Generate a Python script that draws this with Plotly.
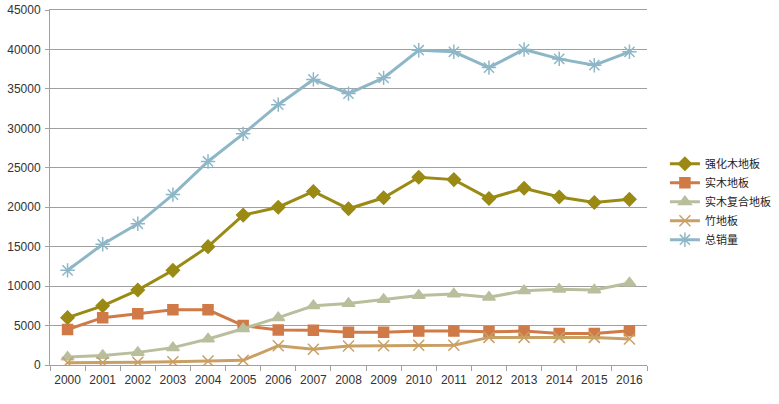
import plotly.graph_objects as go

years = [str(y) for y in range(2000, 2017)]

laminate = [6000, 7500, 9500, 12000, 15000, 19000, 20000, 22000, 19800, 21200,
            23800, 23500, 21100, 22400, 21300, 20600, 21000]
solid_wood = [4500, 6000, 6500, 7000, 7000, 5000, 4450, 4400, 4150, 4150,
              4300, 4300, 4200, 4300, 4000, 4000, 4350]
engineered = [1000, 1200, 1600, 2200, 3300, 4600, 6000, 7500, 7800, 8300,
              8800, 9000, 8600, 9400, 9600, 9500, 10400]
bamboo = [300, 300, 350, 400, 500, 600, 2450, 2000, 2400, 2450,
          2500, 2500, 3500, 3500, 3500, 3500, 3300]
total = [12000, 15300, 17900, 21600, 25800, 29300, 33000, 36200, 34400, 36400,
         39900, 39700, 37700, 40000, 38800, 38000, 39700]

series = [
    ("强化木地板", laminate, "#9a8a14", "diamond", 10),
    ("实木地板", solid_wood, "#d07a48", "square", 10),
    ("实木复合地板", engineered, "#b9bf9c", "triangle-up", 11),
    ("竹地板", bamboo, "#c9a064", "x-thin", 11),
    ("总销量", total, "#8db7c7", "asterisk", 12),
]

fig = go.Figure()
for name, vals, color, symbol, size in series:
    fig.add_trace(go.Scatter(
        x=years, y=vals, name=name, mode="lines+markers",
        line=dict(color=color, width=3),
        marker=dict(symbol=symbol, size=size, color=color,
                    line=dict(color=color, width=1.5)),
    ))

fig.update_layout(
    width=779, height=404,
    margin=dict(l=50, r=132, t=10, b=39, autoexpand=False),
    plot_bgcolor="white", paper_bgcolor="white",
    font=dict(family="Liberation Sans, Arial, Noto Sans CJK SC", size=12, color="#333333"),
    showlegend=True,
    legend=dict(x=1.03, y=0.46, yanchor="middle", xanchor="left",
                font=dict(size=11, color="#222222", family="Noto Sans CJK SC"),
                tracegroupgap=0, itemwidth=30),
    # mirror gives the top border line that stands in for the 45000 gridline
    xaxis=dict(type="category", tickson="boundaries", ticks="outside", ticklen=5,
               tickangle=0, tickfont=dict(size=12), automargin=False,
               ticklabelstandoff=4, mirror=True,
               tickcolor="#a0a0a0", showline=True, linecolor="#a0a0a0", linewidth=1,
               showgrid=False, range=[-0.5, 16.5]),
    yaxis=dict(range=[0, 45000], dtick=5000, tickformat="d", ticks="outside", ticklen=4,
               automargin=False, ticklabelstandoff=2,
               tickcolor="#a0a0a0", showline=True, linecolor="#a0a0a0", linewidth=1,
               gridcolor="#a0a0a0", gridwidth=1, zeroline=False),
)

# drop the default body margin so the figure sits at the page origin
fig.write_html("out.html", config={"displayModeBar": False},
               post_script="document.body.style.margin='0';")
